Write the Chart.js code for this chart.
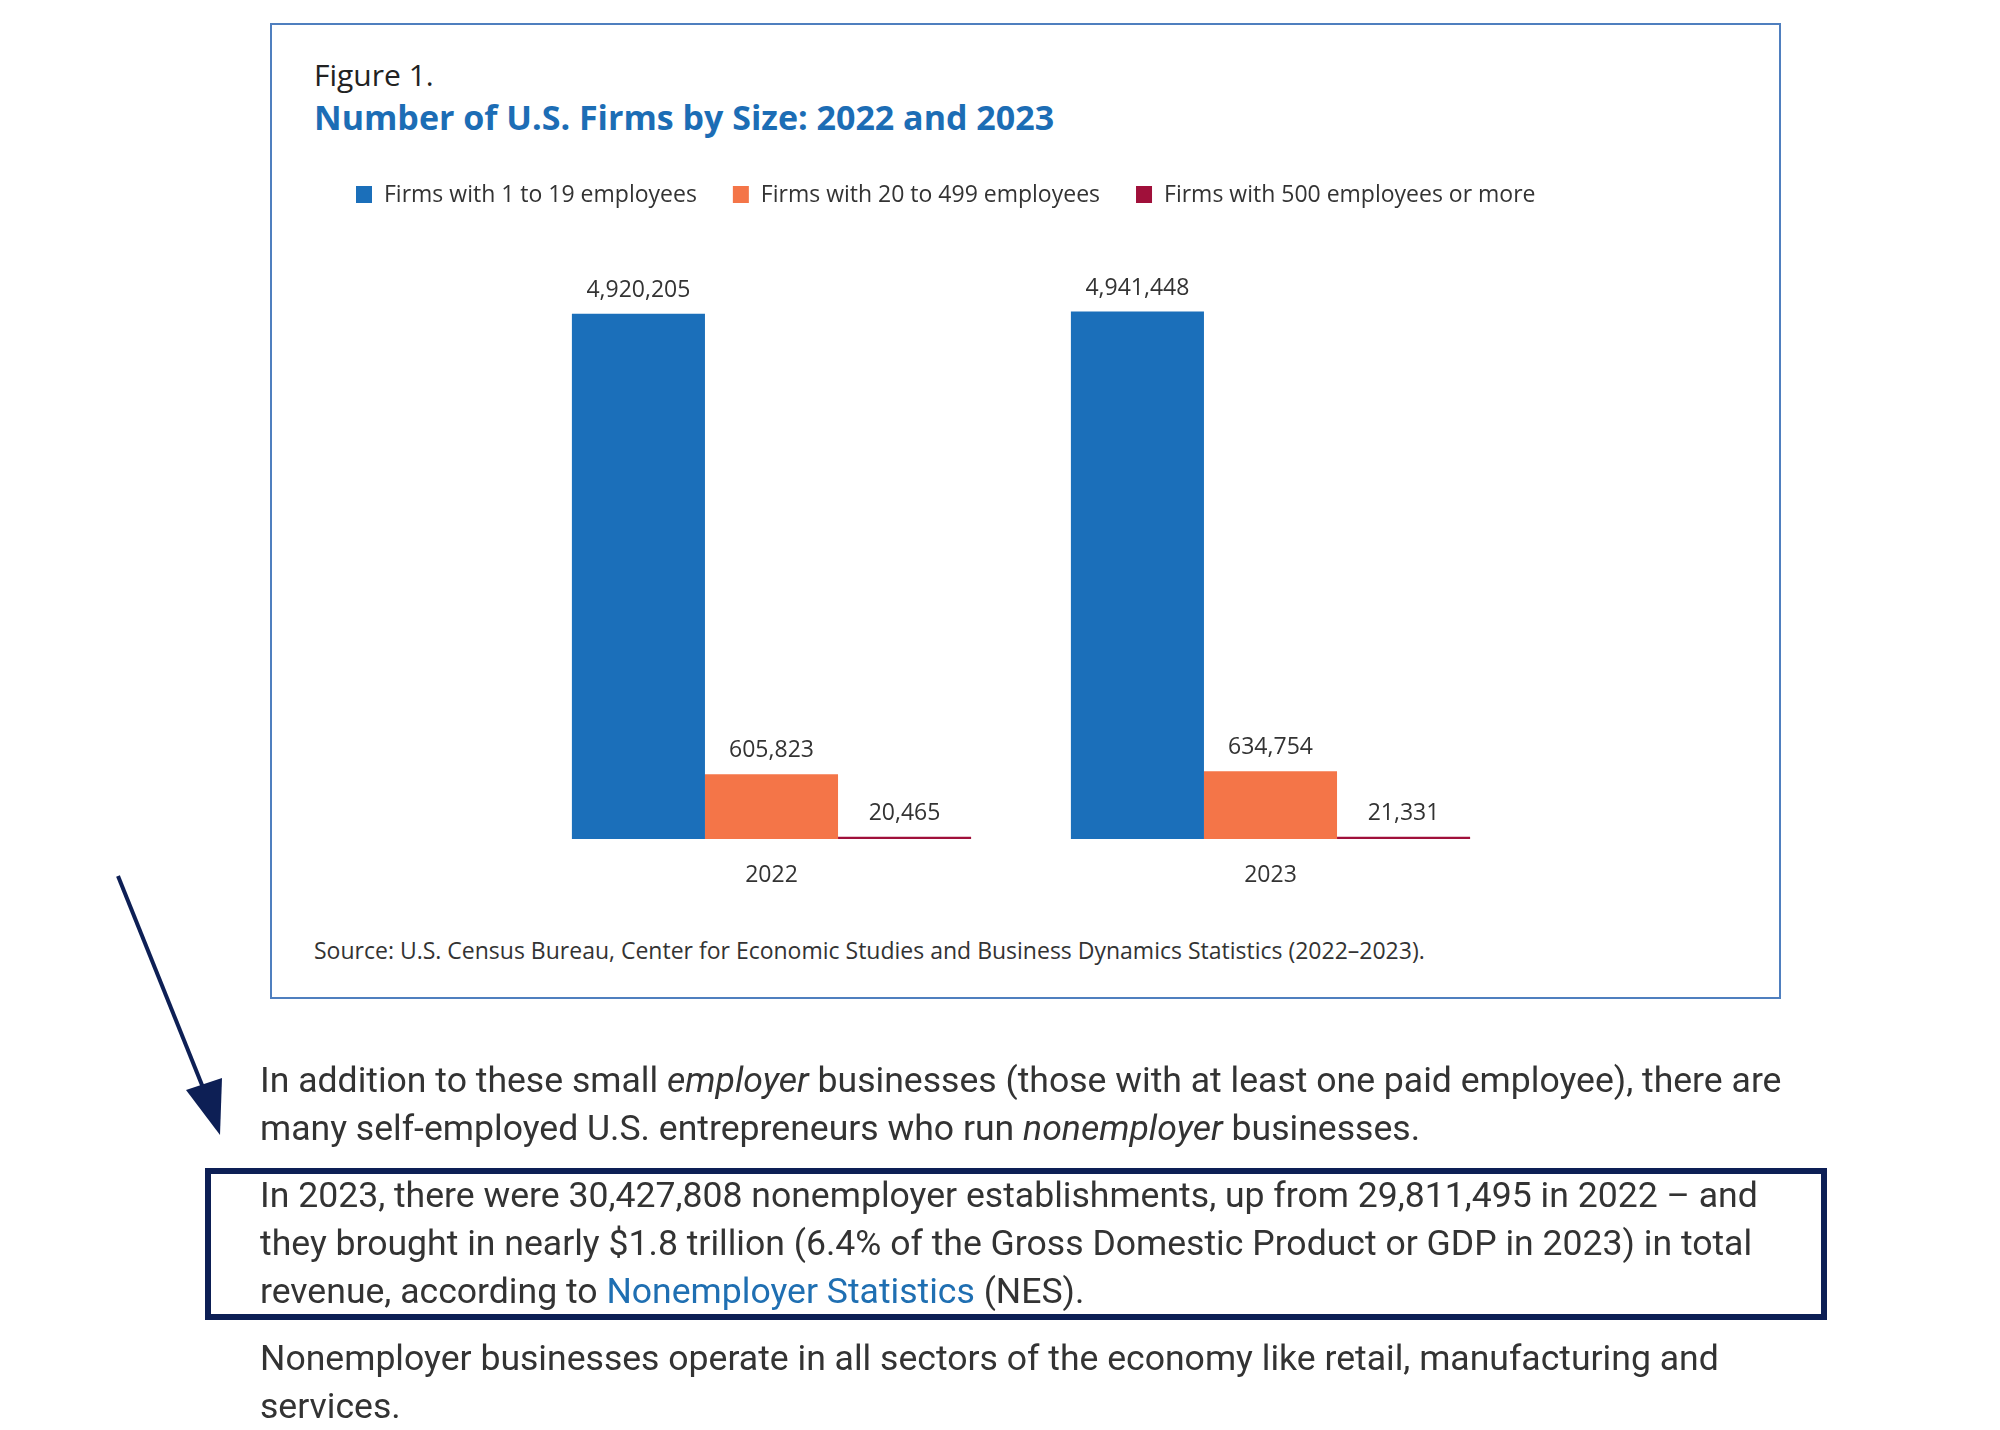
<!DOCTYPE html>
<html><head><meta charset="utf-8">
<script src="https://cdn.jsdelivr.net/npm/chart.js@4"></script>
<style>
html,body{margin:0;padding:0;background:#fff;width:2000px;height:1430px;overflow:hidden;position:relative}
#box{position:absolute;left:270px;top:23px;width:1507px;height:972px;border:2px solid #4f7fbf;box-sizing:content-box}
.t{position:absolute;font-family:"Open Sans",sans-serif;white-space:nowrap}
#fig{left:314px;top:54px;font-size:30px;color:#222}
#title{left:314px;top:94px;font-size:34px;font-weight:bold;color:#1c6db5}
#src{left:314px;top:934px;font-size:23px;color:#333}
#cw{position:absolute;left:270px;top:160px;width:1518px;height:737px}
.p{position:absolute;left:260px;font-family:Roboto,sans-serif;font-size:35.6px;color:#333;line-height:48px;width:1600px;white-space:nowrap}
#hl{position:absolute;left:205px;top:1168px;width:1610px;height:140px;border:6px solid #0d1f55}
a{color:#1f6fb2;text-decoration:none}
svg{position:absolute;left:0;top:0}
</style></head><body>
<div id="box"></div>
<div class="t" id="fig">Figure 1.</div>
<div class="t" id="title">Number of U.S. Firms by Size: 2022 and 2023</div>
<div id="cw"><canvas id="c"></canvas></div>
<div class="t" id="src">Source: U.S. Census Bureau, Center for Economic Studies and Business Dynamics Statistics (2022–2023).</div>
<svg width="2000" height="1430"><line x1="118" y1="876" x2="208" y2="1100" stroke="#0d1f55" stroke-width="4"/><polygon points="186,1090 220,1135 222,1078" fill="#0d1f55"/></svg>
<div class="p" style="top:1056px">In addition to these small <i>employer</i> businesses (those with at least one paid employee), there are<br>many self-employed U.S. entrepreneurs who run <i>nonemployer</i> businesses.</div>
<div id="hl"></div>
<div class="p" style="top:1171px">In 2023, there were 30,427,808 nonemployer establishments, up from 29,811,495 in 2022 – and<br>they brought in nearly $1.8 trillion (6.4% of the Gross Domestic Product or GDP in 2023) in total<br>revenue, according to <a>Nonemployer Statistics</a> (NES).</div>
<div class="p" style="top:1334px">Nonemployer businesses operate in all sectors of the economy like retail, manufacturing and<br>services.</div>
<script>
const categories = ['2022','2023'];
const seriesNames = ['Firms with 1 to 19 employees','Firms with 20 to 499 employees','Firms with 500 employees or more'];
const small = [4920205, 4941448];
const medium = [605823, 634754];
const large = [20465, 21331];
const colors = ['#1b6fba','#f47548','#a0103a'];
const fmt = v => v.toLocaleString('en-US');
const plug = {
  id:'lbl',
  afterDatasetsDraw(ch){
    const c = ch.ctx; c.save();
    c.fillStyle='#333'; c.font='23px "Open Sans", sans-serif'; c.textAlign='center'; c.textBaseline='bottom';
    ch.data.datasets.forEach((ds,i)=>{
      ch.getDatasetMeta(i).data.forEach((b,j)=>{ c.fillText(fmt(ds.data[j]), b.x, b.y-12); });
    });
    c.textBaseline='middle';
    const xs = ch.scales.x, base = ch.scales.y.getPixelForValue(0);
    categories.forEach((k,j)=> c.fillText(k, xs.getPixelForValue(j), base+36));
    c.textAlign='left';
    let x = 86; const y = 34;
    seriesNames.forEach((n,i)=>{
      c.fillStyle=colors[i]; c.fillRect(x, y-8, 16, 17);
      c.fillStyle='#333'; c.fillText(n, x+28, y+1);
      x += 28 + c.measureText(n).width + 36;
    });
    c.restore();
  }
};
new Chart(document.getElementById('c'),{
  type:'bar',
  data:{labels:categories,datasets:[small,medium,large].map((d,i)=>({label:seriesNames[i],data:d,backgroundColor:colors[i],minBarLength:2}))},
  options:{responsive:true,maintainAspectRatio:false,animation:false,
    layout:{padding:{top:124,bottom:58,left:252,right:268}},
    datasets:{bar:{categoryPercentage:0.8,barPercentage:1}},
    plugins:{legend:{display:false},tooltip:{enabled:false}},
    scales:{x:{display:false},y:{display:false,min:0,max:5200000}}},
  plugins:[plug]
});
</script>
</body></html>
